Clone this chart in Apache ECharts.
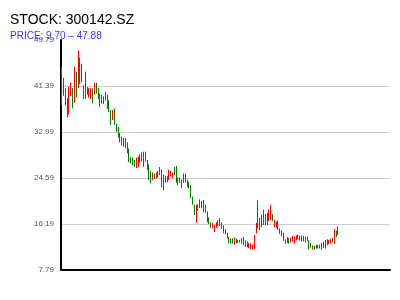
<!DOCTYPE html>
<html>
<head>
<meta charset="utf-8">
<script src="https://cdn.jsdelivr.net/npm/echarts@6/dist/echarts.min.js"></script>
<style>
html,body{margin:0;padding:0;background:#fff;}
#chart{width:400px;height:300px;}
</style>
</head>
<body>
<div id="chart"></div>
<script>
var titleText = 'STOCK: 300142.SZ';
var subText = 'PRICE: 9.70 \u2013 47.88';
var yMin = 7.79;
var yMax = 49.79;
var yStep = 8.4;
var categoryCount = 181;

// [open, close, low, high]
var candles = [
[44.0,38.5,37.8,44.8],[42.3,40.0,39.6,42.9],[40.5,38.0,37.8,41.0],[38.5,36.2,35.7,39.2],[36.5,40.2,36.2,41.2],
[39.8,41.6,39.6,42.0],[40.8,37.8,37.3,41.0],[38.6,44.0,38.3,44.9],[43.2,39.6,39.3,44.0],[41.0,46.5,41.0,47.88],
[46.0,42.2,41.8,46.6],[44.0,42.2,42.0,45.5],[39.2,41.0,39.0,41.5],[39.2,43.5,39.0,44.0],[41.0,40.0,39.8,41.2],
[39.5,40.5,39.3,41.0],[39.2,40.8,39.0,41.0],[40.8,38.6,38.2,41.0],[40.0,41.5,39.8,42.0],[41.8,40.2,40.0,42.0],
[40.8,39.2,39.0,41.0],[39.5,37.8,37.6,40.0],[38.3,39.5,38.2,39.8],[38.3,39.2,38.1,39.5],[38.8,40.0,38.7,40.3],
[39.5,37.3,37.2,39.8],[38.5,36.8,36.6,38.8],[36.8,34.5,34.3,37.0],[35.3,36.8,35.2,37.0],[37.0,34.6,34.3,37.3],
[34.5,33.2,33.0,34.5],[33.8,32.2,32.0,33.9],[32.8,31.3,31.1,32.8],[32.0,30.8,30.5,32.1],[30.5,31.8,30.3,31.9],
[30.2,31.6,30.0,31.9],[31.0,29.3,29.1,31.1],[29.8,27.8,27.5,30.0],[28.3,27.5,27.3,28.4],[28.0,27.0,26.9,28.3],
[27.8,26.8,26.6,27.9],[26.6,28.2,26.4,28.3],[27.0,28.4,26.6,28.5],[27.4,28.8,27.3,28.9],[27.8,29.2,27.6,29.3],
[29.3,27.0,26.6,29.4],[29.0,27.8,27.6,29.4],[27.8,26.2,26.0,27.9],[27.0,24.5,24.2,27.1],[25.7,23.8,23.6,25.9],
[24.4,25.5,24.2,25.6],[25.2,24.6,24.4,25.4],[24.6,25.5,24.5,25.6],[24.8,25.7,24.7,25.9],[25.2,26.4,25.1,26.6],
[26.0,23.0,22.9,26.2],[23.0,24.9,22.4,25.2],[24.0,24.8,23.7,25.0],[24.8,24.0,23.8,24.9],[24.3,26.0,24.2,26.1],
[25.0,25.8,24.9,25.9],[24.7,25.5,24.6,25.6],[26.4,25.2,25.1,26.6],[26.7,23.9,23.7,26.8],[23.4,24.6,23.3,24.7],
[24.6,23.8,23.7,24.7],[24.2,22.8,22.7,24.3],[23.8,25.2,23.7,25.4],[25.3,24.0,23.8,25.4],[23.0,24.2,22.9,24.3],
[23.8,22.8,22.7,23.9],[23.2,21.0,20.9,23.3],[21.1,19.8,19.7,21.2],[19.6,18.0,17.8,19.7],[17.0,19.5,16.4,19.7],
[18.8,19.7,18.6,19.8],[19.2,20.6,19.1,20.7],[20.3,19.2,19.1,20.4],[18.6,20.5,18.4,20.6],[19.6,18.3,18.2,19.7],
[18.4,16.7,16.5,18.5],[17.3,16.4,16.2,17.4],[16.4,15.6,15.5,16.5],[15.5,16.3,15.4,16.4],[14.8,15.9,14.7,16.0],
[15.6,16.4,15.5,16.5],[16.8,15.9,15.8,16.9],[15.9,17.1,15.8,17.3],[16.4,15.4,15.3,16.5],[15.8,14.6,14.5,15.9],
[15.2,14.4,14.3,15.3],[14.5,13.8,13.6,14.6],[13.7,12.9,12.7,13.8],[13.5,12.8,12.6,13.6],[13.5,12.7,12.6,13.6],
[12.5,13.6,12.4,13.7],[13.4,12.8,12.7,13.5],[12.8,13.2,12.7,13.3],[12.9,13.2,12.8,13.3],[13.5,12.7,12.6,13.6],
[13.6,12.4,12.3,13.8],[12.2,13.1,12.0,13.2],[12.9,12.1,11.9,13.0],[11.9,12.6,11.8,12.7],[11.7,12.4,11.6,12.6],
[11.6,12.3,11.5,12.4],[11.8,14.1,11.6,14.2],[14.6,16.3,14.5,16.4],[18.8,15.5,15.4,20.5],[17.0,15.3,15.1,17.3],
[15.8,17.7,15.6,17.9],[16.2,18.5,16.0,18.8],[17.8,16.3,16.0,18.0],[16.3,18.0,16.0,18.2],[16.9,18.7,16.7,18.8],
[17.0,19.6,16.9,19.7],[17.9,16.9,16.7,18.0],[15.8,16.8,15.6,17.0],[15.6,16.5,15.5,16.6],[16.6,15.3,15.1,16.8],
[15.2,14.5,14.4,15.4],[14.8,14.0,13.9,15.0],[14.4,13.2,13.1,14.6],[12.7,13.2,12.6,13.4],[13.6,12.8,12.7,13.8],
[13.5,12.8,12.6,13.6],[12.9,13.6,12.8,13.7],[13.1,13.9,13.0,14.0],[12.7,13.8,12.6,13.9],[13.3,14.0,13.2,14.1],
[13.5,14.2,13.4,14.3],[14.0,13.3,13.2,14.1],[13.1,14.0,13.0,14.1],[13.9,13.1,13.0,14.0],[12.9,13.7,12.8,13.9],
[13.2,13.8,13.1,13.9],[13.1,11.6,11.5,13.2],[12.6,12.0,11.9,12.7],[11.6,12.2,11.5,12.3],[12.1,11.6,11.5,12.2],
[12.3,11.8,11.7,12.4],[11.8,12.3,11.7,12.4],[12.3,11.8,11.7,12.4],[11.6,12.6,11.5,12.7],[11.9,12.8,11.8,12.9],
[11.8,13.2,11.7,13.3],[12.4,13.3,12.3,13.4],[12.6,13.2,12.5,13.3],[12.7,13.4,12.6,13.5],[13.6,12.9,12.8,13.7],
[12.9,15.2,12.6,15.3],[14.8,13.9,13.8,15.0],[14.3,15.7,14.2,15.8]
];

var categories = [];
for (var i = 0; i < categoryCount; i++) categories.push('d' + (i + 1));

var chart = echarts.init(document.getElementById('chart'), null, {renderer: 'canvas'});
chart.setOption({
  animation: false,
  backgroundColor: '#fff',
  title: [
    {text: titleText, left: 10, top: 13, padding: 0,
     textStyle: {fontFamily: 'Liberation Sans, Arial, sans-serif', fontSize: 14, fontWeight: 'normal', color: '#000'}},
    {text: subText, left: 10, top: 31, padding: 0,
     textStyle: {fontFamily: 'Liberation Sans, Arial, sans-serif', fontSize: 10, fontWeight: 'normal', color: '#3a3aff'}}
  ],
  grid: {left: 61, right: 10, top: 40, bottom: 30, containLabel: false},
  xAxis: {
    type: 'category', data: categories, boundaryGap: true,
    axisLine: {show: true, lineStyle: {color: '#000', width: 2}},
    axisTick: {show: false}, axisLabel: {show: false}, splitLine: {show: false}
  },
  yAxis: {
    type: 'value', min: yMin, max: yMax, interval: yStep, scale: true,
    axisLine: {show: true, onZero: false, lineStyle: {color: '#000', width: 2}},
    axisTick: {show: false},
    axisLabel: {fontSize: 8, color: '#555', margin: 7, fontFamily: 'Liberation Sans, Arial, sans-serif',
      formatter: function (v) { return v.toFixed(2); }},
    splitLine: {show: true, lineStyle: {color: ['rgba(0,0,0,0)', '#cccccc', '#cccccc', '#cccccc', '#cccccc', 'rgba(0,0,0,0)'], width: 1}}
  },
  series: [{
    type: 'candlestick',
    data: candles,
    barWidth: 1,
    itemStyle: {color: '#ff0000', color0: '#008000', borderColor: '#ff0000', borderColor0: '#008000', borderWidth: 1}
  }]
});
</script>
</body>
</html>
